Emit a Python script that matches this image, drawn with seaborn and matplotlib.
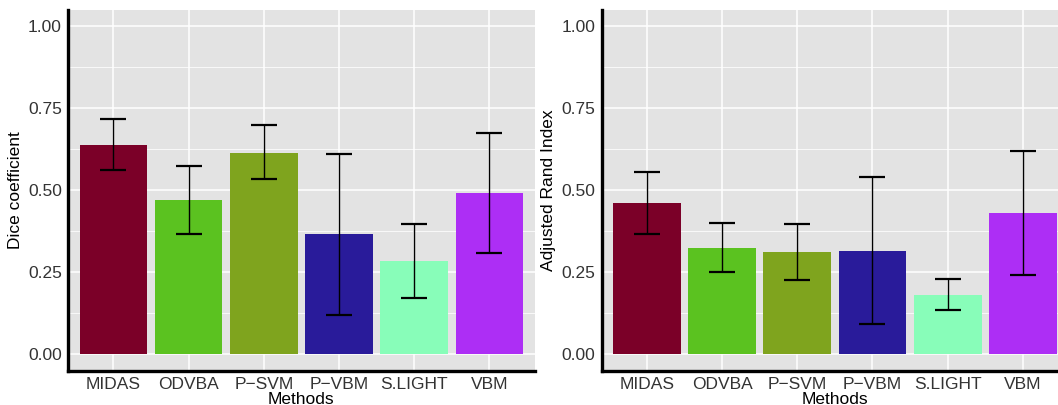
import matplotlib
matplotlib.use("Agg")
import matplotlib.pyplot as plt
import seaborn as sns
import pandas as pd
import numpy as np

methods = ["MIDAS", "ODVBA", "P\u2212SVM", "P\u2212VBM", "S.LIGHT", "VBM"]
colors = ["#7B0028", "#5BC220", "#7FA41E", "#291B9A", "#88FDB9", "#AD2EF5"]

dice_mean = [0.639, 0.470, 0.614, 0.367, 0.285, 0.492]
dice_low = [0.561, 0.367, 0.534, 0.121, 0.173, 0.309]
dice_high = [0.717, 0.575, 0.698, 0.612, 0.397, 0.676]

ari_mean = [0.460, 0.325, 0.312, 0.315, 0.180, 0.430]
ari_low = [0.366, 0.252, 0.226, 0.091, 0.134, 0.241]
ari_high = [0.556, 0.399, 0.397, 0.540, 0.229, 0.621]

sns.set_theme(style="darkgrid")
plt.rcParams["font.family"] = ["Liberation Sans", "DejaVu Sans"]

fig = plt.figure(figsize=(10.58, 4.05), dpi=100)
ax1 = fig.add_axes([0.0645, 0.0847, 0.4408, 0.8906])
ax2 = fig.add_axes([0.5687, 0.0847, 0.4408, 0.8906])

def panel(ax, mean, low, high, ylabel):
    df = pd.DataFrame({"Methods": methods, "value": mean})
    sns.barplot(data=df, x="Methods", y="value", hue="Methods",
                palette=colors, order=methods, hue_order=methods,
                width=0.9, legend=False, ax=ax, saturation=1,
                edgecolor="none", zorder=2)
    m = np.array(mean)
    lo = m - np.array(low)
    hi = np.array(high) - m
    ax.errorbar(np.arange(len(methods)), m, yerr=[lo, hi], fmt="none",
                ecolor="black", elinewidth=1.0, capsize=9.5, capthick=1.6,
                zorder=3)
    ax.set_facecolor("#E3E3E3")
    ax.set_xlim(-0.6, len(methods) - 0.4)
    ax.set_ylim(-0.05, 1.05)
    ax.set_yticks([0, 0.25, 0.5, 0.75, 1.0])
    ax.set_yticklabels(["0.00", "0.25", "0.50", "0.75", "1.00"])
    ax.set_yticks([0.125, 0.375, 0.625, 0.875], minor=True)
    ax.grid(True, which="major", color="white", linewidth=1.1, zorder=0)
    ax.grid(True, which="minor", axis="y", color="white", linewidth=0.55, zorder=0)
    ax.set_axisbelow(True)
    for s in ["top", "right"]:
        ax.spines[s].set_visible(False)
    for s in ["left", "bottom"]:
        ax.spines[s].set_visible(True)
        ax.spines[s].set_color("black")
        ax.spines[s].set_linewidth(2.4)
    ax.tick_params(axis="both", which="major", length=2.5, width=0.8,
                   color="#333333", labelcolor="#333333", labelsize=12.5, pad=2)
    ax.tick_params(axis="y", which="minor", length=0)
    ax.set_xlabel("Methods", fontsize=12.5, color="black", labelpad=0)
    ax.set_ylabel(ylabel, fontsize=12.5, color="black", labelpad=4)

panel(ax1, dice_mean, dice_low, dice_high, "Dice coefficient")
panel(ax2, ari_mean, ari_low, ari_high, "Adjusted Rand Index")

fig.savefig("out.png", dpi=100, facecolor="white")
